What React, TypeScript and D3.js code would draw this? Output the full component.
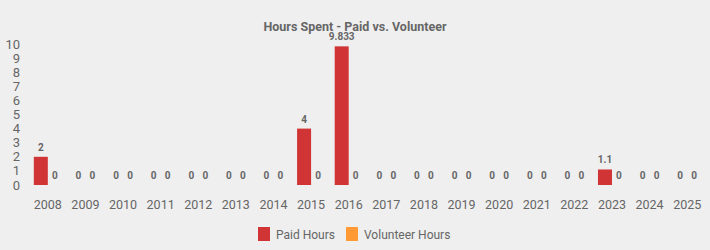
import React from "react";
import * as d3 from "d3";

const years = ["2008","2009","2010","2011","2012","2013","2014","2015","2016","2017","2018","2019","2020","2021","2022","2023","2024","2025"];
const paidHours = [2,0,0,0,0,0,0,4,9.833,0,0,0,0,0,0,1.1,0,0];
const volunteerHours = [0,0,0,0,0,0,0,0,0,0,0,0,0,0,0,0,0,0];
const yTicks = [0,1,2,3,4,5,6,7,8,9,10];
const seriesNames = ["Paid Hours","Volunteer Hours"];
const colors = ["#d03434","#ff9933"];

export default function App() {
  const W = 710, H = 250;
  const left = 29, right = 706, top = 44, bottom = 185;
  const x = d3.scaleBand<string>().domain(years).range([left, right]).padding(0);
  const y = d3.scaleLinear().domain([0, 10]).range([bottom, top]);
  const bw = 14;
  const font = "Roboto, 'Liberation Sans', Arial, sans-serif";
  const series = [paidHours, volunteerHours];
  return (
    <svg width={W} height={H} style={{ position: "absolute", left: 0, top: 0, background: "#efefef" }} fontFamily={font}>
      <rect x={0} y={0} width={W} height={H} fill="#efefef" />
      <text x={355} y={31} textAnchor="middle" fontSize={12.5} fontWeight="bold" fill="#666">Hours Spent - Paid vs. Volunteer</text>
      {yTicks.map(t => (
        <text key={t} x={20} y={y(t)} dy="0.35em" textAnchor="end" fontSize={13} fill="#666">{t}</text>
      ))}
      {years.map((yr, i) => {
        const c = (x(yr) as number) + x.bandwidth() / 2;
        return (
          <g key={yr}>
            <text x={c} y={209} textAnchor="middle" fontSize={12.5} fill="#666">{yr}</text>
            {series.map((s, k) => {
              const bx = c - bw + k * bw;
              const v = s[i];
              return (
                <g key={k}>
                  {v > 0 && <rect x={bx} y={y(v)} width={bw} height={bottom - y(v)} fill={colors[k]} />}
                  <text x={bx + bw / 2} y={y(v) - 6} textAnchor="middle" fontSize={10} fontWeight="bold" fill="#666">{String(v)}</text>
                </g>
              );
            })}
          </g>
        );
      })}
      {seriesNames.map((n, k) => {
        const lx = k === 0 ? 258 : 346;
        return (
          <g key={n}>
            <rect x={lx} y={227} width={12} height={14} fill={colors[k]} />
            <text x={lx + 18} y={238.5} fontSize={12} fill="#666">{n}</text>
          </g>
        );
      })}
    </svg>
  );
}
